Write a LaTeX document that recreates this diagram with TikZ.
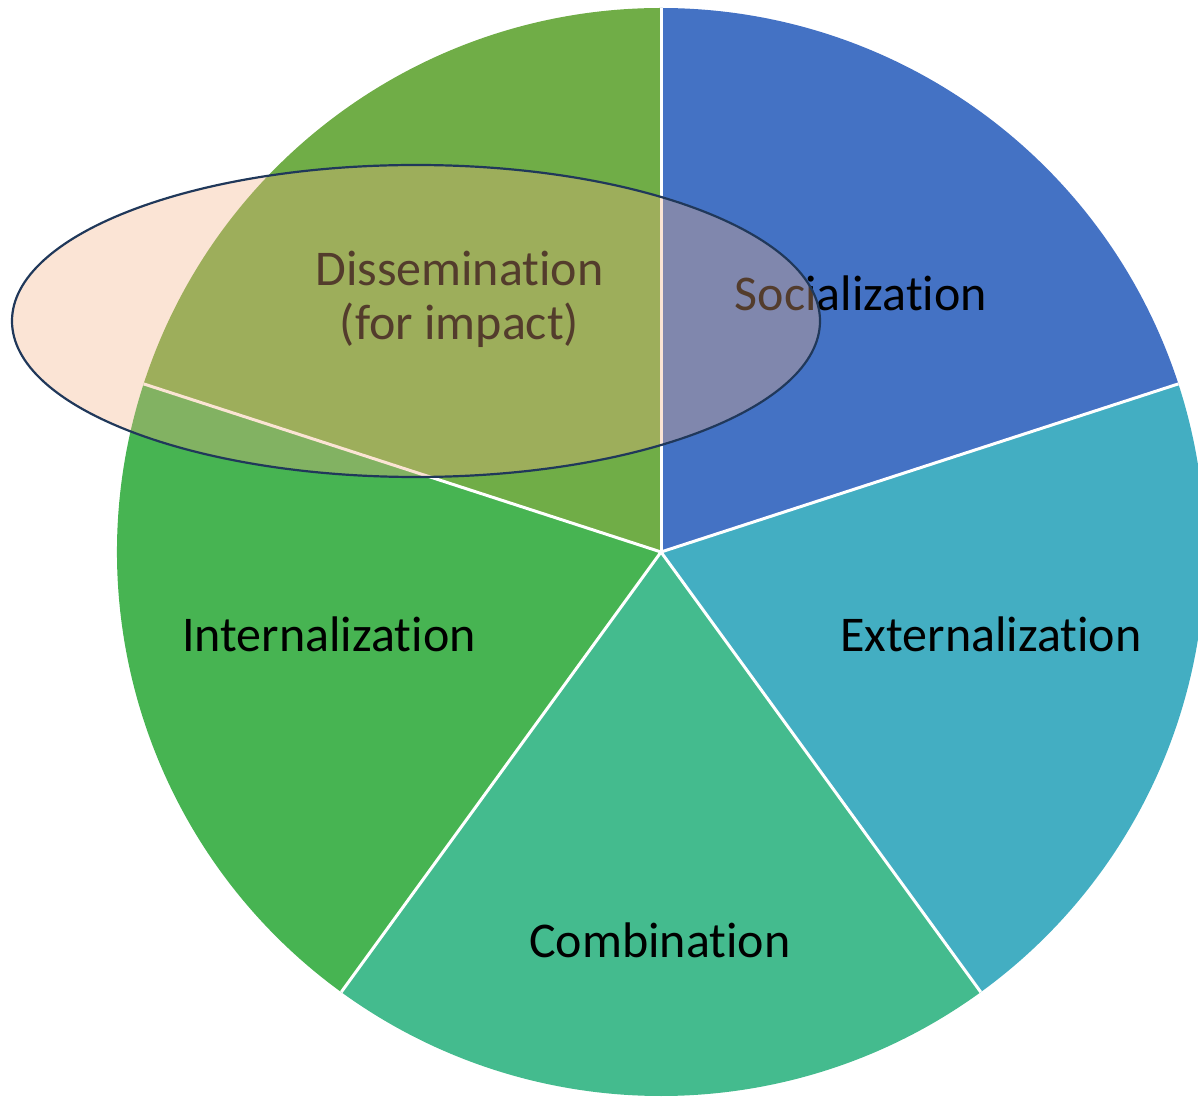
\documentclass[tikz,border=0pt]{standalone}
\usepackage{fontspec}
\setmainfont{Carlito}[Ligatures={NoCommon}]
\usetikzlibrary{shapes.geometric}
\definecolor{cSoc}{RGB}{68,114,196}
\definecolor{cExt}{RGB}{67,174,194}
\definecolor{cCom}{RGB}{68,187,142}
\definecolor{cInt}{RGB}{71,180,82}
\definecolor{cDis}{RGB}{112,173,71}
\definecolor{cEll}{RGB}{244,177,131}
\definecolor{cEllLine}{RGB}{32,56,90}
\tikzset{
  sep/.style={draw=white, line width=3pt},
  lbl/.style={inner sep=0pt, anchor=base, text=black, font=\fontsize{50}{54}\selectfont, align=center},
}
\begin{document}
\begin{tikzpicture}[x=1pt,y=1pt]
\useasboundingbox (0,0) rectangle (1198,1096);
\coordinate (c) at (661,544);
\def\R{544}
\begin{scope}
\clip (0,0) rectangle (1198,1096);
\fill[cSoc] (c) -- ++(18:\R) arc[start angle=18, end angle=90, radius=\R] -- cycle;
\fill[cExt] (c) -- ++(-54:\R) arc[start angle=-54, end angle=18, radius=\R] -- cycle;
\fill[cCom] (c) -- ++(-126:\R) arc[start angle=-126, end angle=-54, radius=\R] -- cycle;
\fill[cInt] (c) -- ++(162:\R) arc[start angle=162, end angle=234, radius=\R] -- cycle;
\fill[cDis] (c) -- ++(90:\R) arc[start angle=90, end angle=162, radius=\R] -- cycle;
\end{scope}
\foreach \a/\n in {90/b1,18/b2,-54/b3,-126/b4,162/b5}{
  \coordinate (\n) at ([shift={(\a:544)}]661,544);
}
\draw[sep] (c) -- (b1);
\draw[sep] (c) -- (b2);
\draw[sep] (c) -- (b3);
\draw[sep] (c) -- (b4);
\draw[sep] (c) -- (b5);
\node[lbl] (soc) at (861,785) {Socialization};
\node[lbl] (ext) at (991,445) {Externalization};
\node[lbl] (int) at (329,445) {Internalization};
\node[lbl] (com) at (660,139) {Combination};
\node[lbl] (dis) at (459.5,756) {Dissemination\\(for impact)};
\node[ellipse, draw=cEllLine, line width=2.2pt, fill=cEll, fill opacity=0.34,
      minimum width=808pt, minimum height=312pt, inner sep=0pt] (ell) at (416,775) {};
\end{tikzpicture}
\end{document}
